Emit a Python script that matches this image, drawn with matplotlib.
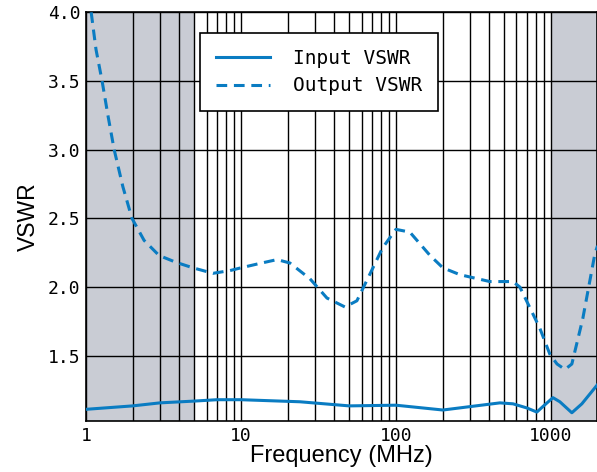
import matplotlib
matplotlib.use("Agg")
import matplotlib.pyplot as plt
from matplotlib.ticker import FixedLocator, NullFormatter, FixedFormatter

# Data
out_freq = [1.08, 1.16, 1.27, 1.39, 1.52, 1.73, 1.98, 2.37, 2.96, 3.81, 4.9, 6.6, 8.5, 10,
            13, 17.1, 20.7, 27.9, 35.9, 46.9, 56, 68, 82, 100, 123, 166, 201, 259, 404,
            569, 631, 849, 986, 1096, 1233, 1366, 1607, 1922, 2000]
out_vswr = [4.0, 3.73, 3.5, 3.24, 3.0, 2.73, 2.5, 2.34, 2.23, 2.18, 2.14, 2.10, 2.12, 2.14,
            2.17, 2.20, 2.175, 2.06, 1.92, 1.855, 1.90, 2.095, 2.285, 2.42, 2.40, 2.23,
            2.14, 2.09, 2.04, 2.04, 2.0, 1.70, 1.51, 1.44, 1.40, 1.44, 1.77, 2.24, 2.30]

in_freq = [1, 2, 3, 5, 7, 10, 24, 50, 100, 201, 469, 570, 700, 812, 888, 1031, 1143,
           1366, 1585, 2000]
in_vswr = [1.11, 1.135, 1.157, 1.17, 1.18, 1.18, 1.165, 1.135, 1.14, 1.105, 1.157, 1.15,
           1.12, 1.09, 1.13, 1.195, 1.165, 1.085, 1.15, 1.29]

x_major = [1, 10, 100, 1000]
x_major_labels = ["1", "10", "100", "1000"]
y_ticks = [1.5, 2.0, 2.5, 3.0, 3.5, 4.0]
y_tick_labels = ["1.5", "2.0", "2.5", "3.0", "3.5", "4.0"]
shade_spans = [(1, 5), (1000, 2000)]

blue = "#0a7cc2"
mono = ["DejaVu Sans Mono"]

fig = plt.figure(figsize=(5.97, 4.72), dpi=100)
ax = fig.add_axes([86/597, 1 - 421/472, 1 - 86/597, (421 - 12.3)/472])

for a, b in shade_spans:
    ax.axvspan(a, b, color="#c9ccd4", zorder=0, lw=0)

ax.set_xscale("log")
ax.set_xlim(1, 1985)
ax.set_ylim(1.025, 4.0)

grid_x = [m * 10**d for d in range(4) for m in range(1, 10) if m * 10**d <= 2000]
for gx in grid_x:
    ax.axvline(gx, color="black", lw=1.0, zorder=1)
for gy in y_ticks:
    ax.axhline(gy, color="black", lw=1.0, zorder=1)

ax.plot(in_freq, in_vswr, color=blue, lw=2.2, label="Input VSWR", zorder=3,
        solid_joinstyle="round")
ax.plot(out_freq, out_vswr, color=blue, lw=2.2, ls=(0, (3.5, 2.2)), label="Output VSWR",
        zorder=3)

ax.xaxis.set_major_locator(FixedLocator(x_major))
ax.xaxis.set_major_formatter(FixedFormatter(x_major_labels))
ax.xaxis.set_minor_locator(FixedLocator([]))
ax.xaxis.set_minor_formatter(NullFormatter())
ax.set_yticks(y_ticks)
ax.set_yticklabels(y_tick_labels)
ax.tick_params(length=0, labelsize=13, pad=4)
for lab in ax.get_xticklabels() + ax.get_yticklabels():
    lab.set_family(mono)

for sp in ax.spines.values():
    sp.set_color("black")
    sp.set_linewidth(1.2)

ax.set_xlabel("Frequency (MHz)", fontsize=17, family="Liberation Sans", labelpad=0)
ax.set_ylabel("VSWR", fontsize=16.5, family="Liberation Sans", labelpad=6)

leg = ax.legend(loc="upper left", bbox_to_anchor=(0.223, 0.949), frameon=True, fancybox=False,
                prop={"family": mono, "size": 14}, handlelength=2.8, borderpad=0.8,
                labelspacing=0.45, handletextpad=1.2, borderaxespad=0)
leg.get_frame().set_edgecolor("black")
leg.get_frame().set_linewidth(1.2)
leg.get_frame().set_alpha(1)
leg.set_zorder(5)

fig.savefig("out.png", dpi=100)
